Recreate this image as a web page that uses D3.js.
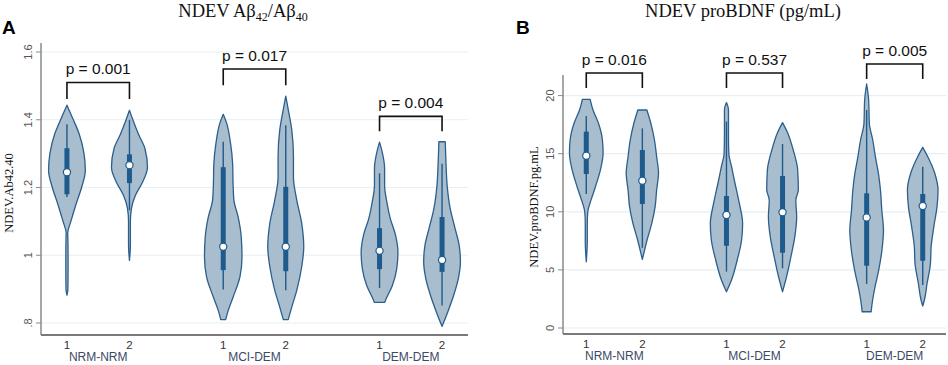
<!DOCTYPE html>
<html lang="en">
<head>
<meta charset="UTF-8"/>
<title>NDEV violin plots</title>
<script src="https://d3js.org/d3.v7.min.js"></script>
<style>
  body { margin: 0; background: #fff; }
  svg { display: block; }
</style>
</head>
<body>
<script>
    // Categories
    var groups = ["NRM-NRM", "MCI-DEM", "DEM-DEM"];
    var subLabels = ["1", "2"];

    // Panel A: Ab42/Ab40 ratio
    var abTicks = [0.8, 1, 1.2, 1.4, 1.6];
    var abTickLabels = [".8", "1", "1.2", "1.4", "1.6"];
    var abPValues = ["p = 0.001", "p = 0.017", "p = 0.004"];
    var abBracketTop = [1.51, 1.55, 1.41];
    var abBracketBottom = [1.461, 1.502, 1.366];
    // violin outline: levels (values) and relative density at each level
    var abLevels = [
        [1.443, 1.40, 1.36, 1.30, 1.25, 1.20, 1.15, 1.10, 1.065, 1.05, 1.0, 0.95, 0.90, 0.882],
        [1.428, 1.40, 1.355, 1.316, 1.26, 1.215, 1.177, 1.14, 1.10, 1.03, 0.985],
        [1.416, 1.39, 1.33, 1.27, 1.20, 1.162, 1.112, 1.054, 0.995, 0.936, 0.877, 0.838, 0.81],
        [1.47, 1.428, 1.37, 1.29, 1.23, 1.162, 1.094, 1.024, 0.966, 0.897, 0.847, 0.81],
        [1.334, 1.305, 1.257, 1.207, 1.157, 1.109, 1.06, 1.009, 0.961, 0.91, 0.872, 0.861],
        [1.335, 1.27, 1.207, 1.139, 1.08, 1.03, 0.98, 0.932, 0.882, 0.832, 0.79]
    ];
    var abDensity = [
        [0, 0.34, 0.64, 0.91, 0.98, 0.78, 0.48, 0.21, 0.04, 0.05, 0.06, 0.06, 0.05, 0],
        [0, 0.18, 0.5, 0.82, 0.96, 0.69, 0.32, 0.11, 0.05, 0.05, 0],
        [0, 0.18, 0.39, 0.5, 0.53, 0.57, 0.8, 0.96, 1.0, 0.89, 0.53, 0.27, 0.13],
        [0, 0.14, 0.32, 0.41, 0.41, 0.59, 0.85, 0.96, 0.85, 0.59, 0.32, 0.13],
        [0, 0.14, 0.27, 0.27, 0.39, 0.57, 0.85, 0.98, 0.92, 0.68, 0.36, 0.28],
        [0.17, 0.21, 0.27, 0.43, 0.69, 0.91, 0.98, 0.87, 0.62, 0.3, 0]
    ];
    // [whisker low, q1, median, q3, whisker high]
    var abBox = [
        [1.172, 1.18, 1.245, 1.316, 1.387],
        [1.133, 1.213, 1.266, 1.298, 1.40],
        [0.899, 0.956, 1.025, 1.26, 1.335],
        [0.897, 0.953, 1.025, 1.202, 1.384],
        [0.903, 0.959, 1.013, 1.08, 1.242],
        [0.852, 0.951, 0.986, 1.113, 1.27]
    ];

    // Panel B: proBDNF (pg/mL)
    var bdnfTicks = [0, 5, 10, 15, 20];
    var bdnfTickLabels = ["0", "5", "10", "15", "20"];
    var bdnfPValues = ["p = 0.016", "p = 0.537", "p = 0.005"];
    var bdnfBracketTop = [21.94, 21.94, 22.72];
    var bdnfBracketBottom = [20.65, 20.65, 21.43];
    var bdnfLevels = [
        [19.68, 18.76, 17.64, 16.18, 15.06, 13.6, 12.13, 11.0, 10.0, 9.0, 7.5, 5.7],
        [18.76, 17.64, 16.18, 14.74, 13.33, 11.88, 10.44, 9.0, 7.57, 6.45, 5.9],
        [19.4, 18.8, 16.7, 15.0, 13.9, 12.5, 10.76, 9.0, 7.57, 5.85, 4.13, 3.12],
        [17.67, 16.8, 15.3, 13.6, 11.9, 11.0, 9.58, 7.86, 6.14, 4.42, 3.12],
        [21.0, 19.6, 17.6, 16.2, 14.74, 13.3, 11.88, 10.16, 8.43, 6.71, 5.0, 3.27, 1.83, 1.40],
        [15.55, 14.74, 13.3, 11.88, 10.44, 8.72, 7.0, 5.57, 3.85, 2.41, 1.89]
    ];
    var bdnfDensity = [
        [0.23, 0.4, 0.72, 0.96, 1.0, 0.84, 0.54, 0.28, 0.09, 0.06, 0.06, 0],
        [0.27, 0.5, 0.72, 0.85, 0.96, 0.85, 0.76, 0.56, 0.28, 0.09, 0],
        [0, 0.12, 0.12, 0.14, 0.3, 0.5, 0.76, 0.96, 0.9, 0.64, 0.3, 0],
        [0, 0.3, 0.64, 0.9, 0.94, 0.79, 0.84, 0.73, 0.5, 0.24, 0],
        [0, 0.12, 0.16, 0.36, 0.52, 0.7, 0.82, 0.9, 1.0, 0.91, 0.72, 0.46, 0.3, 0.27],
        [0, 0.3, 0.72, 0.91, 0.85, 0.66, 0.5, 0.46, 0.26, 0.1, 0]
    ];
    var bdnfBox = [
        [11.53, 13.25, 14.83, 16.9, 18.24],
        [6.9, 10.67, 12.68, 15.32, 17.18],
        [4.85, 7.08, 9.73, 11.36, 17.76],
        [5.14, 6.48, 9.96, 13.08, 15.83],
        [3.79, 5.36, 9.52, 11.59, 18.76],
        [3.70, 5.79, 10.5, 11.53, 13.88]
    ];

    var W = 948, H = 365;
    var fillCol = "#a8bdcd", lineCol = "#2c5f8c", boxCol = "#1e5a8b";
    var sans = "'Liberation Sans', Arial, sans-serif";
    var serif = "'Liberation Serif', 'Times New Roman', serif";

    var svg = d3.select("body").append("svg")
        .attr("width", W)
        .attr("height", H);

    function drawPanel(p) {
        var g = svg.append("g");

        var y = d3.scaleLinear().domain(p.yDomain).range(p.yRange);
        var x = d3.scalePoint().domain(groups).range([p.left, p.right]).padding(0.366);
        var step = x.step();
        var sub = d3.scalePoint().domain(subLabels).range([-step * 0.2, step * 0.2]);
        var w = d3.scaleLinear().domain([0, 1]).range([0, step * 0.12]);

        // gridlines
        g.selectAll("line.grid")
            .data(p.ticks)
            .enter().append("line")
            .attr("x1", p.left).attr("x2", p.right)
            .attr("y1", function(d) { return y(d); })
            .attr("y2", function(d) { return y(d); })
            .attr("stroke", "#e6eff4")
            .attr("stroke-width", 1.2);

        // axes lines
        g.append("line")
            .attr("x1", p.left).attr("x2", p.left)
            .attr("y1", p.axisTop).attr("y2", p.axisY)
            .attr("stroke", "#8a8a8a").attr("stroke-width", 1.5);
        g.append("line")
            .attr("x1", p.left).attr("x2", p.right)
            .attr("y1", p.axisY).attr("y2", p.axisY)
            .attr("stroke", "#7a7a7a").attr("stroke-width", 2);

        // y ticks and labels
        g.selectAll("line.tick")
            .data(p.ticks)
            .enter().append("line")
            .attr("x1", p.left - 5).attr("x2", p.left)
            .attr("y1", function(d) { return y(d); })
            .attr("y2", function(d) { return y(d); })
            .attr("stroke", "#8a8a8a").attr("stroke-width", 1);
        g.selectAll("text.tick")
            .data(p.ticks)
            .enter().append("text")
            .attr("transform", function(d) {
                return "translate(" + (p.left - 9) + "," + y(d) + ") rotate(-90)";
            })
            .attr("text-anchor", "middle")
            .attr("font-family", sans)
            .attr("font-size", "11px")
            .attr("fill", "#555")
            .text(function(d, i) { return p.tickLabels[i]; });

        // y axis title
        g.append("text")
            .attr("transform", "translate(" + p.yTitleX + "," + p.yTitleY + ") rotate(-90)")
            .attr("text-anchor", "middle")
            .attr("font-family", serif)
            .attr("font-size", "12.5px")
            .attr("fill", "#111")
            .text(p.yTitle);

        // violins
        var idx = 0;
        groups.forEach(function(grp, gi) {
            subLabels.forEach(function(s, si) {
                var k = gi * 2 + si;
                var cx = x(grp) + sub(s);
                var pts = p.levels[k].map(function(v, i) { return [v, p.density[k][i]]; });
                var area = d3.area()
                    .curve(d3.curveMonotoneY)
                    .y(function(d) { return y(d[0]); })
                    .x0(function(d) { return cx - w(d[1]); })
                    .x1(function(d) { return cx + w(d[1]); });
                g.append("path")
                    .attr("d", area(pts))
                    .attr("fill", fillCol)
                    .attr("stroke", lineCol)
                    .attr("stroke-width", 1.3)
                    .attr("stroke-linejoin", "round");

                var b = p.box[k];
                g.append("line")
                    .attr("x1", cx).attr("x2", cx)
                    .attr("y1", y(b[0])).attr("y2", y(b[4]))
                    .attr("stroke", boxCol).attr("stroke-width", 1.4);
                g.append("line")
                    .attr("x1", cx).attr("x2", cx)
                    .attr("y1", y(b[1])).attr("y2", y(b[3]))
                    .attr("stroke", boxCol).attr("stroke-width", 5);
                g.append("circle")
                    .attr("cx", cx).attr("cy", y(b[2]))
                    .attr("r", 3.6)
                    .attr("fill", "#fff")
                    .attr("stroke", boxCol).attr("stroke-width", 1.2);

                // sub tick label
                g.append("text")
                    .attr("x", cx).attr("y", p.axisY + 14)
                    .attr("text-anchor", "middle")
                    .attr("font-family", sans)
                    .attr("font-size", "11.5px")
                    .attr("fill", "#333")
                    .text(s);
                idx++;
            });

            // group label
            g.append("text")
                .attr("x", x(grp)).attr("y", p.axisY + 26)
                .attr("text-anchor", "middle")
                .attr("font-family", sans)
                .attr("font-size", "12px")
                .attr("fill", "#3b4a66")
                .text(grp);

            // significance bracket
            var xa = x(grp) + sub("1"), xb = x(grp) + sub("2");
            var yt = y(p.bracketTop[gi]), yb = y(p.bracketBottom[gi]);
            g.append("path")
                .attr("d", "M" + xa + "," + yb + "V" + yt + "H" + xb + "V" + yb)
                .attr("fill", "none")
                .attr("stroke", "#111")
                .attr("stroke-width", 1.6);
            g.append("text")
                .attr("x", x(grp)).attr("y", yt - 8)
                .attr("text-anchor", "middle")
                .attr("font-family", sans)
                .attr("font-size", "15.5px")
                .attr("fill", "#111")
                .text(p.pValues[gi]);
        });

        // panel letter
        g.append("text")
            .attr("x", p.letterX).attr("y", 34)
            .attr("font-family", sans)
            .attr("font-weight", "bold")
            .attr("font-size", "19px")
            .attr("fill", "#000")
            .text(p.letter);

        return g;
    }

    drawPanel({
        left: 41, right: 468, axisY: 335, axisTop: 43,
        yDomain: [0.8, 1.6], yRange: [323, 52],
        ticks: abTicks, tickLabels: abTickLabels,
        levels: abLevels, density: abDensity, box: abBox,
        pValues: abPValues, bracketTop: abBracketTop, bracketBottom: abBracketBottom,
        yTitle: "NDEV.Ab42.40", yTitleX: 13, yTitleY: 193,
        letter: "A", letterX: 2
    });

    drawPanel({
        left: 563, right: 946, axisY: 334, axisTop: 75,
        yDomain: [0, 20], yRange: [328, 95.6],
        ticks: bdnfTicks, tickLabels: bdnfTickLabels,
        levels: bdnfLevels, density: bdnfDensity, box: bdnfBox,
        pValues: bdnfPValues, bracketTop: bdnfBracketTop, bracketBottom: bdnfBracketBottom,
        yTitle: "NDEV.proBDNF.pg.mL", yTitleX: 538, yTitleY: 207,
        letter: "B", letterX: 516
    });

    // panel titles (serif, with subscripts)
    var tA = svg.append("text")
        .attr("x", 243).attr("y", 17)
        .attr("text-anchor", "middle")
        .attr("font-family", serif)
        .attr("font-size", "18.5px")
        .attr("fill", "#111");
    tA.append("tspan").text("NDEV A\u03b2");
    tA.append("tspan").attr("font-size", "12px").attr("dy", 4).text("42");
    tA.append("tspan").attr("dy", -4).text("/A\u03b2");
    tA.append("tspan").attr("font-size", "12px").attr("dy", 4).text("40");

    svg.append("text")
        .attr("x", 743).attr("y", 17)
        .attr("text-anchor", "middle")
        .attr("font-family", serif)
        .attr("font-size", "18.5px")
        .attr("fill", "#111")
        .text("NDEV proBDNF (pg/mL)");
</script>
</body>
</html>
